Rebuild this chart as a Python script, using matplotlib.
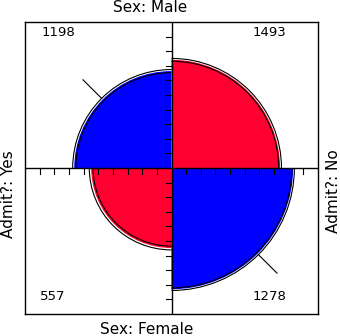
import numpy as np
import matplotlib
matplotlib.use('Agg')
import matplotlib.pyplot as plt
from matplotlib.patches import Wedge, Arc

# UCB admissions, aggregated over departments
sexes = ['Male', 'Female']
admit = ['Yes', 'No']
counts = np.array([[1198, 1493],
                   [557, 1278]])

# quadrant angles (deg) for each cell: rows = sex, cols = admit
starts = np.array([[90, 0], [180, 270]])
fill_colors = np.array([['#0000ff', '#ff0030'], ['#ff0030', '#0000ff']])

scale = 0.995

# standardize rows (sex) to equal totals
p = counts / counts.sum(axis=1, keepdims=True)
colsum = p.sum(axis=0)

# 95% confidence limits of odds ratio -> rings
a, b = counts[0]
c, d = counts[1]
lor = np.log(a * d / (b * c))
se = np.sqrt(1/a + 1/b + 1/c + 1/d)
or_lims = np.exp([lor - 1.96 * se, lor + 1.96 * se])


def table_for_or(orv):
    # find male-admit proportion giving this odds ratio with fixed margins
    lo, hi = 1e-6, min(1, colsum[0]) - 1e-6
    for _ in range(100):
        m = (lo + hi) / 2
        t = np.array([[m, 1 - m], [colsum[0] - m, 1 - colsum[0] + m]])
        val = t[0, 0] * t[1, 1] / (t[0, 1] * t[1, 0])
        if val < orv:
            lo = m
        else:
            hi = m
    return t


ring_tables = [table_for_or(v) for v in or_lims]

fig = plt.figure(figsize=(3.4, 3.36), dpi=100)
ax = fig.add_axes([25/340, 22/336, 293/340, 292/336])
ax.set_xlim(-1, 1)
ax.set_ylim(-1, 1)
ax.set_xticks([])
ax.set_yticks([])
for s in ax.spines.values():
    s.set_linewidth(1)

for i in range(2):
    for j in range(2):
        r = scale * np.sqrt(p[i, j])
        ax.add_patch(Wedge((0, 0), r, starts[i, j], starts[i, j] + 90,
                           facecolor=fill_colors[i, j], edgecolor='none', zorder=1))
        for t in ring_tables:
            rr = scale * np.sqrt(t[i, j])
            ax.add_patch(Arc((0, 0), 2 * rr, 2 * rr, theta1=starts[i, j],
                             theta2=starts[i, j] + 90, color='black', lw=0.8, zorder=2))

# diagonal markers on the blue (positive association) cells
for i, j in [(0, 0), (1, 1)]:
    rr = max(scale * np.sqrt(t[i, j]) for t in ring_tables)
    ang = np.deg2rad(starts[i, j] + 45)
    ax.plot([rr * np.cos(ang), (rr + 0.18) * np.cos(ang)],
            [rr * np.sin(ang), (rr + 0.18) * np.sin(ang)], color='black', lw=0.8, zorder=3)

# axes through the center with tick marks
ax.axhline(0, color='black', lw=1, zorder=4)
ax.axvline(0, color='black', lw=1, zorder=4)
tk = np.arange(1, 10) / 10
for v in np.concatenate([tk, -tk]):
    ax.plot([0, -0.035], [v, v], color='black', lw=0.8, zorder=4)
    ax.plot([v, v], [0, -0.04], color='black', lw=0.8, zorder=4)

# cell counts (pixel positions of the original layout)
nfs = 9.5
fig.text(58/340, 1 - 33/336, str(counts[0, 0]), ha='center', va='center', fontsize=nfs)
fig.text(269.5/340, 1 - 33/336, str(counts[0, 1]), ha='center', va='center', fontsize=nfs)
fig.text(52.5/340, 1 - 297/336, str(counts[1, 0]), ha='center', va='center', fontsize=nfs)
fig.text(269/340, 1 - 297/336, str(counts[1, 1]), ha='center', va='center', fontsize=nfs)

fs = 11
fig.text(150/340, 1 - 11.5/336, 'Sex: ' + sexes[0], ha='center', va='baseline', fontsize=fs)
fig.text(147/340, 1 - 334/336, 'Sex: ' + sexes[1], ha='center', va='baseline', fontsize=fs)
fig.text(8.5/340, 1 - 194.5/336, 'Admit?: ' + admit[0], ha='center', va='center',
         rotation=90, fontsize=fs)
fig.text(333.5/340, 1 - 191.5/336, 'Admit?: ' + admit[1], ha='center', va='center',
         rotation=90, fontsize=fs)

fig.savefig('out.png', dpi=100)
